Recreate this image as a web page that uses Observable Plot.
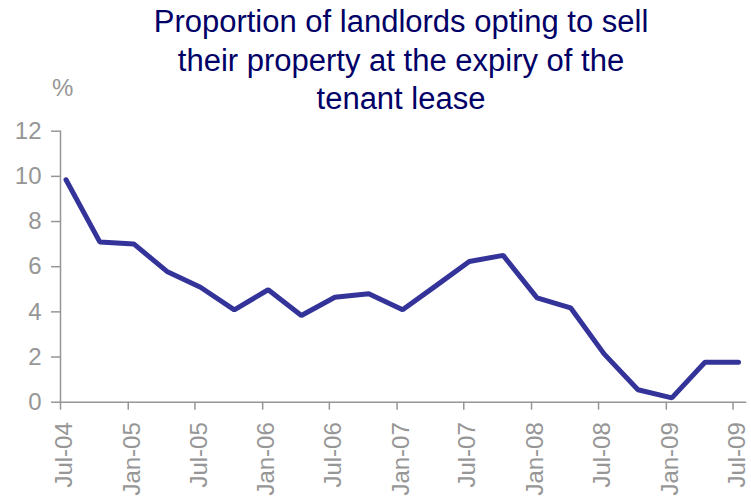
<!DOCTYPE html>
<html>
<head>
<meta charset="utf-8">
<script src="https://cdn.jsdelivr.net/npm/d3@7"></script>
<script src="https://cdn.jsdelivr.net/npm/@observablehq/plot@0.6"></script>
<style>
  html, body { margin: 0; padding: 0; background: #fff; }
  #wrap { position: relative; width: 751px; height: 497px; overflow: hidden; }
  #title {
    position: absolute; left: 101px; width: 600px; top: 3px;
    text-align: center; font-family: "Liberation Sans", Arial, sans-serif;
    font-size: 31px; line-height: 38.5px; color: #000066;
  }
  #unit {
    position: absolute; left: 52px; top: 74px;
    font-family: "Liberation Sans", Arial, sans-serif; font-size: 24px; color: #969696;
  }
  #chart { position: absolute; left: 0; top: 0; }
</style>
</head>
<body>
<div id="wrap">
  <div id="chart"></div>
  <div id="title">Proportion of landlords opting to sell<br>their property at the expiry of the<br>tenant lease</div>
  <div id="unit">%</div>
</div>
<script>
const dates = ["2004-07-16","2004-10-16","2005-01-16","2005-04-16","2005-07-16","2005-10-16",
  "2006-01-16","2006-04-16","2006-07-16","2006-10-16","2007-01-16","2007-04-16","2007-07-16",
  "2007-10-16","2008-01-16","2008-04-16","2008-07-16","2008-10-16","2009-01-16","2009-04-16","2009-07-16"];
const values = [9.85, 7.09, 7.01, 5.79, 5.09, 4.09, 4.98, 3.84, 4.65, 4.80, 4.09, 5.15, 6.23,
  6.50, 4.62, 4.18, 2.14, 0.55, 0.19, 1.77, 1.77];
const xTicks = ["2004-07-01","2005-01-01","2005-07-01","2006-01-01","2006-07-01","2007-01-01",
  "2007-07-01","2008-01-01","2008-07-01","2009-01-01","2009-07-01"];
const yTicks = [0, 2, 4, 6, 8, 10, 12];

const data = dates.map((d, i) => ({date: new Date(d), value: values[i]}));
const xTickDates = xTicks.map(d => new Date(d));
const gray = "#969696";

const chart = Plot.plot({
  width: 751,
  height: 497,
  marginTop: 130.7,
  marginBottom: 95.3,
  marginLeft: 60,
  marginRight: 6,
  style: {fontFamily: "'Liberation Sans', Arial, sans-serif", fontSize: "24px", color: gray, background: "white"},
  x: {type: "utc", domain: [new Date("2004-07-01"), new Date("2009-08-04")]},
  y: {domain: [0, 12]},
  marks: [
    Plot.axisX({
      ticks: xTickDates,
      tickFormat: () => "",
      tickSize: 8,
      stroke: gray,
      strokeOpacity: 1,
      strokeWidth: 1.5,
      label: null
    }),
    Plot.axisX({
      ticks: xTickDates,
      tickFormat: d3.utcFormat("%b-%y"),
      tickRotate: -90,
      tickSize: 0,
      tickPadding: 20,
      fontSize: 24,
      dx: 4,
      fill: gray,
      label: null
    }),
    Plot.axisY({
      ticks: yTicks,
      tickSize: 9,
      tickPadding: 10,
      fontSize: 24,
      stroke: gray,
      fill: gray,
      strokeOpacity: 1,
      strokeWidth: 1.5,
      label: null
    }),
    Plot.frame({anchor: "left", stroke: gray, strokeWidth: 1.5}),
    Plot.frame({anchor: "bottom", stroke: gray, strokeWidth: 1.5}),
    Plot.line(data, {x: "date", y: "value", stroke: "#333399", strokeWidth: 5, strokeLinejoin: "miter", strokeLinecap: "round"})
  ]
});
document.getElementById("chart").appendChild(chart);
</script>
</body>
</html>
